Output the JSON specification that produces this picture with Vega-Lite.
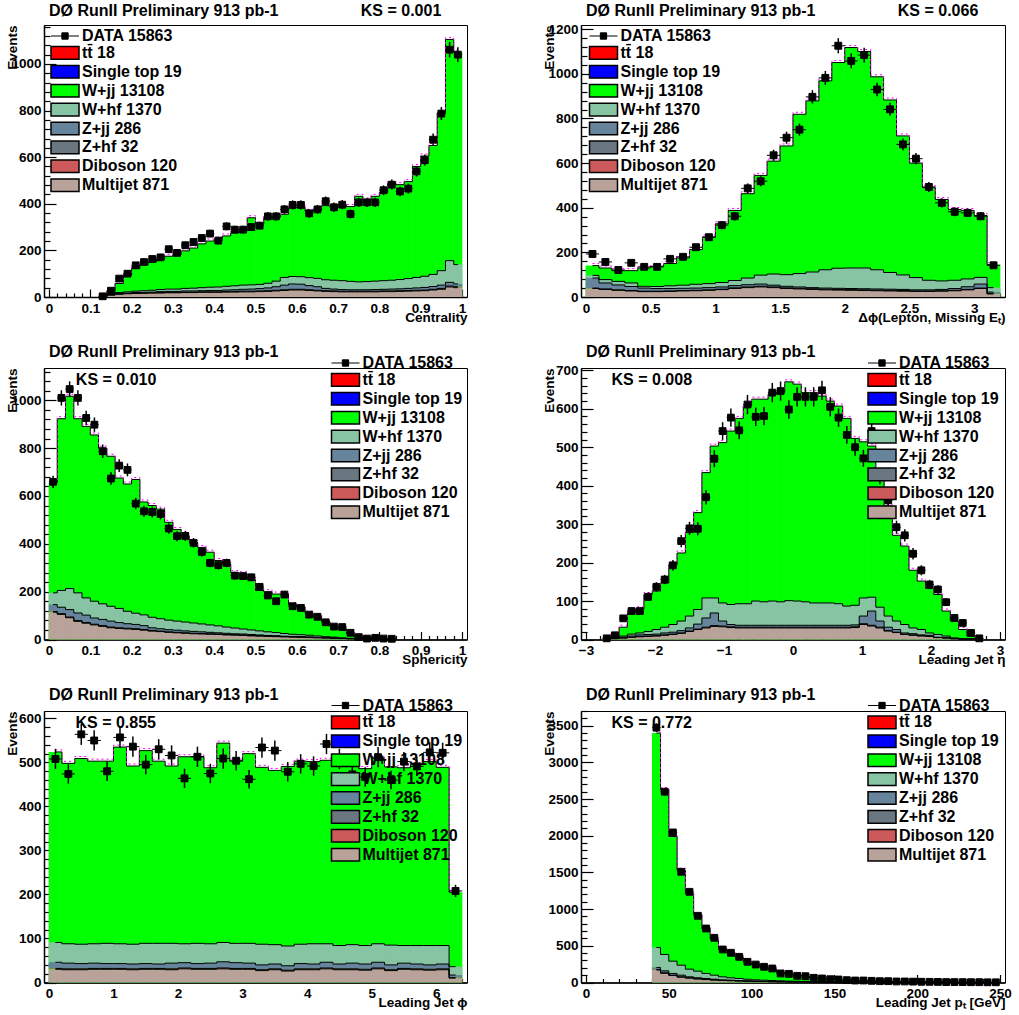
{
"$schema": "https://vega.github.io/schema/vega-lite/v6.json",
"background": "white",
"padding": {"left": 4, "top": 2, "right": 0, "bottom": 0},
"config": {
  "font": "Liberation Sans",
  "view": {"stroke": "black", "strokeWidth": 1},
  "axis": {"labelFont": "Liberation Sans", "labelFontWeight": "bold", "labelColor": "black", "titleFont": "Liberation Sans", "titleFontWeight": "bold", "titleFontSize": 13.5, "titleColor": "black", "domainColor": "black", "domainWidth": 1.5, "tickColor": "black", "tickWidth": 1.2, "grid": false, "labelFlush": false, "labelBound": false, "zindex": 2},
  "axisX": {"titleY": 24, "titleAlign": "right", "titleBaseline": "alphabetic"},
  "axisY": {"titleX": -28, "titleY": 0, "titleAlign": "right", "titleAngle": -90, "titleBaseline": "alphabetic"},
  "legend": {"title": null, "symbolSize": 196, "symbolStrokeColor": "black", "symbolStrokeWidth": 1.5, "symbolOpacity": 1, "labelFont": "Liberation Sans", "labelFontSize": 16, "labelFontWeight": "bold", "labelColor": "black", "labelOffset": 9, "rowPadding": -1.1, "labelLimit": 300, "orient": "none"}
},
"datasets": {
"comp": [{"key":"mj","rank":1,"label":"Multijet 871"},{"key":"db","rank":2,"label":"Diboson 120"},{"key":"zjj","rank":3,"label":"Z+jj 286"},{"key":"whf","rank":4,"label":"W+hf 1370"}],
"p1": [
{"x":0.13,"d":3,"e":2,"mc":3,"whf":0,"zjj":0,"db":0,"mj":2},
{"x":0.15,"d":27,"e":5,"mc":25,"whf":2,"zjj":1,"db":1,"mj":8},
{"x":0.17,"d":79,"e":9,"mc":58,"whf":4,"zjj":2,"db":1,"mj":12},
{"x":0.19,"d":100,"e":10,"mc":93,"whf":5,"zjj":2,"db":1,"mj":14},
{"x":0.21,"d":136,"e":12,"mc":122,"whf":6,"zjj":3,"db":1,"mj":15},
{"x":0.23,"d":150,"e":12,"mc":138,"whf":7,"zjj":3,"db":1,"mj":16},
{"x":0.25,"d":163,"e":13,"mc":150,"whf":8,"zjj":3,"db":1,"mj":17},
{"x":0.27,"d":170,"e":13,"mc":162,"whf":9,"zjj":4,"db":2,"mj":17},
{"x":0.29,"d":205,"e":14,"mc":175,"whf":10,"zjj":4,"db":2,"mj":18},
{"x":0.31,"d":189,"e":14,"mc":183,"whf":10,"zjj":4,"db":2,"mj":18},
{"x":0.33,"d":222,"e":15,"mc":198,"whf":11,"zjj":5,"db":2,"mj":19},
{"x":0.35,"d":236,"e":15,"mc":210,"whf":12,"zjj":5,"db":2,"mj":19},
{"x":0.37,"d":253,"e":16,"mc":228,"whf":13,"zjj":5,"db":2,"mj":20},
{"x":0.39,"d":272,"e":16,"mc":240,"whf":14,"zjj":6,"db":2,"mj":20},
{"x":0.41,"d":242,"e":16,"mc":248,"whf":15,"zjj":6,"db":2,"mj":20},
{"x":0.43,"d":303,"e":17,"mc":262,"whf":16,"zjj":7,"db":2,"mj":21},
{"x":0.45,"d":289,"e":17,"mc":275,"whf":17,"zjj":7,"db":3,"mj":21},
{"x":0.47,"d":289,"e":17,"mc":283,"whf":18,"zjj":8,"db":3,"mj":22},
{"x":0.49,"d":300,"e":17,"mc":340,"whf":18,"zjj":9,"db":3,"mj":22},
{"x":0.51,"d":306,"e":17,"mc":312,"whf":18,"zjj":10,"db":3,"mj":23},
{"x":0.53,"d":346,"e":19,"mc":340,"whf":20,"zjj":12,"db":3,"mj":24},
{"x":0.55,"d":346,"e":19,"mc":342,"whf":24,"zjj":15,"db":3,"mj":26},
{"x":0.57,"d":376,"e":19,"mc":355,"whf":33,"zjj":20,"db":3,"mj":28},
{"x":0.59,"d":395,"e":20,"mc":385,"whf":32,"zjj":23,"db":3,"mj":30},
{"x":0.61,"d":395,"e":20,"mc":385,"whf":32,"zjj":22,"db":3,"mj":30},
{"x":0.63,"d":359,"e":19,"mc":368,"whf":34,"zjj":18,"db":3,"mj":28},
{"x":0.65,"d":376,"e":19,"mc":372,"whf":36,"zjj":15,"db":3,"mj":26},
{"x":0.67,"d":411,"e":20,"mc":392,"whf":37,"zjj":10,"db":3,"mj":24},
{"x":0.69,"d":385,"e":20,"mc":388,"whf":38,"zjj":8,"db":3,"mj":23},
{"x":0.71,"d":396,"e":20,"mc":395,"whf":38,"zjj":7,"db":3,"mj":22},
{"x":0.73,"d":356,"e":19,"mc":388,"whf":36,"zjj":6,"db":3,"mj":22},
{"x":0.75,"d":406,"e":20,"mc":432,"whf":34,"zjj":6,"db":3,"mj":22},
{"x":0.77,"d":406,"e":20,"mc":415,"whf":35,"zjj":6,"db":3,"mj":22},
{"x":0.79,"d":406,"e":20,"mc":432,"whf":36,"zjj":7,"db":3,"mj":22},
{"x":0.81,"d":458,"e":21,"mc":448,"whf":37,"zjj":7,"db":3,"mj":23},
{"x":0.83,"d":482,"e":22,"mc":488,"whf":38,"zjj":8,"db":3,"mj":23},
{"x":0.85,"d":453,"e":21,"mc":482,"whf":40,"zjj":8,"db":3,"mj":24},
{"x":0.87,"d":465,"e":22,"mc":495,"whf":42,"zjj":9,"db":3,"mj":25},
{"x":0.89,"d":539,"e":23,"mc":560,"whf":45,"zjj":10,"db":3,"mj":26},
{"x":0.91,"d":587,"e":24,"mc":605,"whf":48,"zjj":11,"db":3,"mj":27},
{"x":0.93,"d":675,"e":26,"mc":650,"whf":52,"zjj":12,"db":3,"mj":30},
{"x":0.95,"d":787,"e":28,"mc":790,"whf":62,"zjj":14,"db":4,"mj":33},
{"x":0.97,"d":1061,"e":33,"mc":1105,"whf":93,"zjj":16,"db":4,"mj":43},
{"x":0.99,"d":1040,"e":32,"mc":1050,"whf":83,"zjj":12,"db":4,"mj":40}
],
"p2": [
{"x":0.05,"d":193,"e":14,"mc":141,"whf":12,"zjj":45,"db":2,"mj":38},
{"x":0.15,"d":157,"e":13,"mc":130,"whf":15,"zjj":27,"db":2,"mj":34},
{"x":0.25,"d":121,"e":11,"mc":118,"whf":16,"zjj":22,"db":2,"mj":30},
{"x":0.35,"d":153,"e":12,"mc":118,"whf":16,"zjj":18,"db":2,"mj":27},
{"x":0.45,"d":135,"e":12,"mc":130,"whf":8,"zjj":14,"db":2,"mj":24},
{"x":0.55,"d":135,"e":12,"mc":138,"whf":9,"zjj":12,"db":2,"mj":24},
{"x":0.65,"d":171,"e":13,"mc":150,"whf":12,"zjj":11,"db":2,"mj":25},
{"x":0.75,"d":180,"e":13,"mc":175,"whf":14,"zjj":10,"db":2,"mj":27},
{"x":0.85,"d":223,"e":15,"mc":213,"whf":17,"zjj":10,"db":2,"mj":28},
{"x":0.95,"d":268,"e":16,"mc":269,"whf":18,"zjj":10,"db":2,"mj":30},
{"x":1.05,"d":322,"e":18,"mc":328,"whf":20,"zjj":10,"db":2,"mj":33},
{"x":1.15,"d":362,"e":19,"mc":388,"whf":23,"zjj":10,"db":3,"mj":38},
{"x":1.25,"d":487,"e":22,"mc":463,"whf":30,"zjj":10,"db":3,"mj":42},
{"x":1.35,"d":519,"e":23,"mc":545,"whf":40,"zjj":10,"db":3,"mj":45},
{"x":1.45,"d":635,"e":25,"mc":609,"whf":50,"zjj":8,"db":3,"mj":42},
{"x":1.55,"d":714,"e":27,"mc":677,"whf":52,"zjj":7,"db":3,"mj":38},
{"x":1.65,"d":750,"e":27,"mc":819,"whf":60,"zjj":6,"db":3,"mj":36},
{"x":1.75,"d":897,"e":30,"mc":879,"whf":70,"zjj":5,"db":3,"mj":34},
{"x":1.85,"d":982,"e":31,"mc":969,"whf":82,"zjj":5,"db":3,"mj":32},
{"x":1.95,"d":1126,"e":34,"mc":1051,"whf":90,"zjj":5,"db":3,"mj":31},
{"x":2.05,"d":1058,"e":33,"mc":1118,"whf":92,"zjj":5,"db":3,"mj":30},
{"x":2.15,"d":1084,"e":33,"mc":1100,"whf":93,"zjj":5,"db":3,"mj":29},
{"x":2.25,"d":930,"e":30,"mc":987,"whf":86,"zjj":5,"db":3,"mj":28},
{"x":2.35,"d":841,"e":29,"mc":883,"whf":75,"zjj":5,"db":3,"mj":27},
{"x":2.45,"d":684,"e":26,"mc":722,"whf":65,"zjj":5,"db":3,"mj":26},
{"x":2.55,"d":620,"e":25,"mc":600,"whf":55,"zjj":5,"db":2,"mj":25},
{"x":2.65,"d":493,"e":22,"mc":490,"whf":43,"zjj":5,"db":2,"mj":25},
{"x":2.75,"d":422,"e":21,"mc":437,"whf":38,"zjj":6,"db":2,"mj":26},
{"x":2.85,"d":382,"e":20,"mc":392,"whf":37,"zjj":8,"db":2,"mj":28},
{"x":2.95,"d":377,"e":19,"mc":388,"whf":35,"zjj":12,"db":2,"mj":32},
{"x":3.05,"d":362,"e":19,"mc":365,"whf":30,"zjj":18,"db":2,"mj":38},
{"x":3.15,"d":142,"e":12,"mc":145,"whf":20,"zjj":7,"db":1,"mj":14}
],
"p3": [
{"x":0.01,"d":659,"e":26,"mc":655,"whf":49,"zjj":29,"db":3,"mj":114},
{"x":0.03,"d":1010,"e":32,"mc":923,"whf":70,"zjj":27,"db":3,"mj":105},
{"x":0.05,"d":1047,"e":32,"mc":1017,"whf":88,"zjj":31,"db":3,"mj":91},
{"x":0.07,"d":1010,"e":32,"mc":923,"whf":84,"zjj":32,"db":3,"mj":76},
{"x":0.09,"d":926,"e":30,"mc":891,"whf":72,"zjj":31,"db":3,"mj":68},
{"x":0.11,"d":898,"e":30,"mc":855,"whf":70,"zjj":26,"db":3,"mj":61},
{"x":0.13,"d":787,"e":28,"mc":800,"whf":65,"zjj":26,"db":3,"mj":55},
{"x":0.15,"d":673,"e":26,"mc":766,"whf":62,"zjj":25,"db":3,"mj":49},
{"x":0.17,"d":727,"e":27,"mc":675,"whf":59,"zjj":22,"db":3,"mj":46},
{"x":0.19,"d":709,"e":27,"mc":650,"whf":52,"zjj":19,"db":3,"mj":44},
{"x":0.21,"d":568,"e":24,"mc":669,"whf":47,"zjj":18,"db":3,"mj":42},
{"x":0.23,"d":536,"e":23,"mc":575,"whf":45,"zjj":16,"db":3,"mj":39},
{"x":0.25,"d":533,"e":23,"mc":560,"whf":44,"zjj":11,"db":3,"mj":35},
{"x":0.27,"d":525,"e":23,"mc":545,"whf":42,"zjj":10,"db":2,"mj":33},
{"x":0.29,"d":464,"e":22,"mc":490,"whf":40,"zjj":9,"db":2,"mj":30},
{"x":0.31,"d":432,"e":21,"mc":460,"whf":38,"zjj":9,"db":2,"mj":28},
{"x":0.33,"d":433,"e":21,"mc":430,"whf":37,"zjj":8,"db":2,"mj":26},
{"x":0.35,"d":404,"e":20,"mc":405,"whf":35,"zjj":8,"db":2,"mj":24},
{"x":0.37,"d":366,"e":19,"mc":385,"whf":33,"zjj":7,"db":2,"mj":23},
{"x":0.39,"d":320,"e":18,"mc":365,"whf":31,"zjj":6,"db":2,"mj":22},
{"x":0.41,"d":311,"e":18,"mc":330,"whf":29,"zjj":5,"db":2,"mj":21},
{"x":0.43,"d":320,"e":18,"mc":315,"whf":26,"zjj":5,"db":2,"mj":19},
{"x":0.45,"d":267,"e":16,"mc":280,"whf":24,"zjj":4,"db":2,"mj":18},
{"x":0.47,"d":265,"e":16,"mc":275,"whf":21,"zjj":4,"db":2,"mj":17},
{"x":0.49,"d":260,"e":16,"mc":250,"whf":19,"zjj":4,"db":2,"mj":15},
{"x":0.51,"d":220,"e":15,"mc":205,"whf":17,"zjj":3,"db":2,"mj":14},
{"x":0.53,"d":184,"e":14,"mc":200,"whf":15,"zjj":3,"db":1,"mj":13},
{"x":0.55,"d":160,"e":13,"mc":190,"whf":13,"zjj":3,"db":1,"mj":12},
{"x":0.57,"d":188,"e":14,"mc":190,"whf":11,"zjj":2,"db":1,"mj":11},
{"x":0.59,"d":139,"e":12,"mc":145,"whf":9,"zjj":2,"db":1,"mj":10},
{"x":0.61,"d":132,"e":11,"mc":135,"whf":8,"zjj":2,"db":1,"mj":9},
{"x":0.63,"d":104,"e":10,"mc":110,"whf":7,"zjj":2,"db":1,"mj":8},
{"x":0.65,"d":95,"e":10,"mc":95,"whf":6,"zjj":1,"db":1,"mj":7},
{"x":0.67,"d":72,"e":8,"mc":75,"whf":4,"zjj":1,"db":1,"mj":6},
{"x":0.69,"d":54,"e":7,"mc":55,"whf":3,"zjj":1,"db":1,"mj":5},
{"x":0.71,"d":52,"e":7,"mc":45,"whf":2,"zjj":1,"db":0,"mj":4},
{"x":0.73,"d":28,"e":5,"mc":25,"whf":1,"zjj":1,"db":0,"mj":3},
{"x":0.75,"d":10,"e":3,"mc":10,"whf":1,"zjj":0,"db":0,"mj":1},
{"x":0.77,"d":4,"e":2,"mc":6,"whf":0,"zjj":0,"db":0,"mj":1},
{"x":0.79,"d":7,"e":3,"mc":4,"whf":0,"zjj":0,"db":0,"mj":1},
{"x":0.81,"d":4,"e":2,"mc":3,"whf":0,"zjj":0,"db":0,"mj":0},
{"x":0.83,"d":3,"e":2,"mc":2,"whf":0,"zjj":0,"db":0,"mj":0}
],
"p4": [
{"x":-2.70,"d":3,"e":2,"mc":3,"whf":1,"zjj":0,"db":0,"mj":1},
{"x":-2.58,"d":11,"e":3,"mc":12,"whf":2,"zjj":1,"db":0,"mj":3},
{"x":-2.46,"d":55,"e":7,"mc":32,"whf":3,"zjj":2,"db":0,"mj":4},
{"x":-2.34,"d":74,"e":9,"mc":69,"whf":5,"zjj":3,"db":0,"mj":6},
{"x":-2.22,"d":74,"e":9,"mc":80,"whf":5,"zjj":4,"db":1,"mj":7},
{"x":-2.10,"d":111,"e":11,"mc":117,"whf":8,"zjj":4,"db":1,"mj":8},
{"x":-1.98,"d":137,"e":12,"mc":126,"whf":12,"zjj":4,"db":1,"mj":9},
{"x":-1.86,"d":156,"e":12,"mc":147,"whf":15,"zjj":5,"db":1,"mj":11},
{"x":-1.74,"d":193,"e":14,"mc":195,"whf":20,"zjj":5,"db":1,"mj":13},
{"x":-1.62,"d":256,"e":16,"mc":225,"whf":25,"zjj":6,"db":1,"mj":16},
{"x":-1.50,"d":289,"e":17,"mc":278,"whf":31,"zjj":8,"db":1,"mj":21},
{"x":-1.38,"d":288,"e":17,"mc":330,"whf":38,"zjj":13,"db":1,"mj":26},
{"x":-1.26,"d":370,"e":19,"mc":434,"whf":52,"zjj":24,"db":2,"mj":30},
{"x":-1.14,"d":470,"e":22,"mc":503,"whf":39,"zjj":33,"db":2,"mj":34},
{"x":-1.02,"d":542,"e":23,"mc":512,"whf":47,"zjj":13,"db":2,"mj":33},
{"x":-0.90,"d":577,"e":24,"mc":542,"whf":52,"zjj":6,"db":2,"mj":31},
{"x":-0.78,"d":544,"e":23,"mc":575,"whf":56,"zjj":5,"db":2,"mj":30},
{"x":-0.66,"d":611,"e":25,"mc":607,"whf":56,"zjj":5,"db":2,"mj":30},
{"x":-0.54,"d":579,"e":24,"mc":625,"whf":63,"zjj":5,"db":2,"mj":30},
{"x":-0.42,"d":581,"e":24,"mc":625,"whf":61,"zjj":5,"db":2,"mj":30},
{"x":-0.30,"d":642,"e":25,"mc":638,"whf":63,"zjj":5,"db":2,"mj":30},
{"x":-0.18,"d":646,"e":25,"mc":642,"whf":61,"zjj":5,"db":2,"mj":30},
{"x":-0.06,"d":598,"e":24,"mc":670,"whf":64,"zjj":5,"db":2,"mj":30},
{"x":0.06,"d":631,"e":25,"mc":664,"whf":63,"zjj":5,"db":2,"mj":30},
{"x":0.18,"d":631,"e":25,"mc":642,"whf":61,"zjj":5,"db":2,"mj":30},
{"x":0.30,"d":631,"e":25,"mc":642,"whf":58,"zjj":5,"db":2,"mj":30},
{"x":0.42,"d":648,"e":25,"mc":633,"whf":58,"zjj":5,"db":2,"mj":30},
{"x":0.54,"d":605,"e":25,"mc":620,"whf":58,"zjj":5,"db":2,"mj":30},
{"x":0.66,"d":577,"e":24,"mc":607,"whf":56,"zjj":5,"db":2,"mj":30},
{"x":0.78,"d":532,"e":23,"mc":575,"whf":50,"zjj":5,"db":2,"mj":30},
{"x":0.90,"d":500,"e":22,"mc":523,"whf":51,"zjj":5,"db":2,"mj":31},
{"x":1.02,"d":471,"e":22,"mc":514,"whf":47,"zjj":20,"db":2,"mj":39},
{"x":1.14,"d":542,"e":23,"mc":503,"whf":36,"zjj":37,"db":2,"mj":35},
{"x":1.26,"d":425,"e":21,"mc":430,"whf":36,"zjj":16,"db":2,"mj":30},
{"x":1.38,"d":362,"e":19,"mc":347,"whf":29,"zjj":9,"db":1,"mj":22},
{"x":1.50,"d":292,"e":17,"mc":271,"whf":22,"zjj":7,"db":1,"mj":18},
{"x":1.62,"d":271,"e":16,"mc":243,"whf":22,"zjj":3,"db":1,"mj":13},
{"x":1.74,"d":223,"e":15,"mc":180,"whf":15,"zjj":3,"db":1,"mj":11},
{"x":1.86,"d":180,"e":13,"mc":152,"whf":14,"zjj":2,"db":1,"mj":9},
{"x":1.98,"d":143,"e":12,"mc":133,"whf":6,"zjj":2,"db":1,"mj":8},
{"x":2.10,"d":130,"e":11,"mc":117,"whf":7,"zjj":1,"db":0,"mj":5},
{"x":2.22,"d":97,"e":10,"mc":74,"whf":4,"zjj":1,"db":0,"mj":4},
{"x":2.34,"d":56,"e":7,"mc":48,"whf":1,"zjj":1,"db":0,"mj":2},
{"x":2.46,"d":43,"e":7,"mc":26,"whf":1,"zjj":0,"db":0,"mj":1},
{"x":2.58,"d":17,"e":4,"mc":9,"whf":1,"zjj":0,"db":0,"mj":1},
{"x":2.70,"d":3,"e":2,"mc":3,"whf":0,"zjj":0,"db":0,"mj":0}
],
"p5": [
{"x":0.1,"d":508,"e":23,"mc":524,"whf":45,"zjj":14,"db":2,"mj":30},
{"x":0.3,"d":474,"e":22,"mc":498,"whf":44,"zjj":13,"db":2,"mj":29},
{"x":0.5,"d":564,"e":24,"mc":509,"whf":44,"zjj":12,"db":2,"mj":29},
{"x":0.7,"d":550,"e":23,"mc":503,"whf":44,"zjj":12,"db":2,"mj":30},
{"x":0.9,"d":480,"e":22,"mc":503,"whf":46,"zjj":11,"db":2,"mj":30},
{"x":1.1,"d":557,"e":24,"mc":535,"whf":45,"zjj":11,"db":2,"mj":30},
{"x":1.3,"d":536,"e":23,"mc":492,"whf":45,"zjj":11,"db":2,"mj":29},
{"x":1.5,"d":495,"e":22,"mc":527,"whf":46,"zjj":11,"db":2,"mj":30},
{"x":1.7,"d":530,"e":23,"mc":503,"whf":47,"zjj":10,"db":2,"mj":30},
{"x":1.9,"d":516,"e":23,"mc":492,"whf":45,"zjj":13,"db":2,"mj":29},
{"x":2.1,"d":464,"e":22,"mc":513,"whf":43,"zjj":12,"db":2,"mj":31},
{"x":2.3,"d":513,"e":23,"mc":513,"whf":46,"zjj":11,"db":2,"mj":30},
{"x":2.5,"d":475,"e":22,"mc":488,"whf":44,"zjj":12,"db":2,"mj":30},
{"x":2.7,"d":509,"e":23,"mc":544,"whf":44,"zjj":14,"db":2,"mj":31},
{"x":2.9,"d":504,"e":22,"mc":503,"whf":44,"zjj":13,"db":2,"mj":30},
{"x":3.1,"d":462,"e":21,"mc":520,"whf":45,"zjj":12,"db":2,"mj":30},
{"x":3.3,"d":534,"e":23,"mc":489,"whf":47,"zjj":11,"db":2,"mj":27},
{"x":3.5,"d":527,"e":23,"mc":482,"whf":44,"zjj":11,"db":2,"mj":29},
{"x":3.7,"d":479,"e":22,"mc":491,"whf":45,"zjj":10,"db":2,"mj":26},
{"x":3.9,"d":497,"e":22,"mc":503,"whf":44,"zjj":12,"db":2,"mj":29},
{"x":4.1,"d":492,"e":22,"mc":502,"whf":46,"zjj":11,"db":2,"mj":29},
{"x":4.3,"d":542,"e":23,"mc":505,"whf":42,"zjj":13,"db":2,"mj":31},
{"x":4.5,"d":508,"e":23,"mc":502,"whf":42,"zjj":11,"db":2,"mj":29},
{"x":4.7,"d":473,"e":22,"mc":492,"whf":42,"zjj":13,"db":2,"mj":29},
{"x":4.9,"d":467,"e":22,"mc":486,"whf":42,"zjj":12,"db":2,"mj":28},
{"x":5.1,"d":512,"e":23,"mc":509,"whf":42,"zjj":13,"db":2,"mj":31},
{"x":5.3,"d":460,"e":21,"mc":490,"whf":45,"zjj":11,"db":2,"mj":27},
{"x":5.5,"d":502,"e":22,"mc":488,"whf":40,"zjj":12,"db":2,"mj":30},
{"x":5.7,"d":491,"e":22,"mc":495,"whf":42,"zjj":11,"db":2,"mj":29},
{"x":5.9,"d":523,"e":23,"mc":502,"whf":44,"zjj":10,"db":2,"mj":28},
{"x":6.1,"d":522,"e":23,"mc":489,"whf":42,"zjj":11,"db":2,"mj":29},
{"x":6.3,"d":208,"e":14,"mc":205,"whf":19,"zjj":6,"db":1,"mj":10}
],
"p6": [
{"x":42.5,"d":3473,"e":59,"mc":3400,"whf":272,"zjj":27,"db":8,"mj":170},
{"x":47.5,"d":2600,"e":51,"mc":2630,"whf":223,"zjj":27,"db":6,"mj":126},
{"x":52.5,"d":2045,"e":45,"mc":1990,"whf":168,"zjj":23,"db":5,"mj":95},
{"x":57.5,"d":1509,"e":39,"mc":1530,"whf":136,"zjj":23,"db":4,"mj":73},
{"x":62.5,"d":1236,"e":35,"mc":1210,"whf":105,"zjj":13,"db":4,"mj":60},
{"x":67.5,"d":909,"e":30,"mc":925,"whf":91,"zjj":13,"db":3,"mj":48},
{"x":72.5,"d":736,"e":27,"mc":735,"whf":68,"zjj":12,"db":3,"mj":40},
{"x":77.5,"d":609,"e":25,"mc":595,"whf":55,"zjj":9,"db":3,"mj":33},
{"x":82.5,"d":450,"e":21,"mc":460,"whf":41,"zjj":7,"db":2,"mj":27},
{"x":87.5,"d":405,"e":20,"mc":398,"whf":32,"zjj":6,"db":2,"mj":24},
{"x":92.5,"d":350,"e":19,"mc":343,"whf":28,"zjj":5,"db":2,"mj":20},
{"x":97.5,"d":282,"e":17,"mc":281,"whf":22,"zjj":4,"db":2,"mj":17},
{"x":102.5,"d":245,"e":16,"mc":240,"whf":17,"zjj":4,"db":2,"mj":14},
{"x":107.5,"d":214,"e":15,"mc":210,"whf":15,"zjj":3,"db":1,"mj":12},
{"x":112.5,"d":191,"e":14,"mc":180,"whf":13,"zjj":3,"db":1,"mj":10},
{"x":117.5,"d":123,"e":11,"mc":140,"whf":11,"zjj":3,"db":1,"mj":8},
{"x":122.5,"d":118,"e":11,"mc":120,"whf":9,"zjj":2,"db":1,"mj":7},
{"x":127.5,"d":91,"e":10,"mc":100,"whf":8,"zjj":2,"db":1,"mj":6},
{"x":132.5,"d":86,"e":9,"mc":85,"whf":7,"zjj":2,"db":1,"mj":5},
{"x":137.5,"d":64,"e":8,"mc":70,"whf":6,"zjj":1,"db":1,"mj":4},
{"x":142.5,"d":55,"e":7,"mc":58,"whf":5,"zjj":1,"db":1,"mj":4},
{"x":147.5,"d":45,"e":7,"mc":48,"whf":4,"zjj":1,"db":0,"mj":3},
{"x":152.5,"d":41,"e":6,"mc":40,"whf":3,"zjj":1,"db":0,"mj":3},
{"x":157.5,"d":32,"e":6,"mc":33,"whf":3,"zjj":1,"db":0,"mj":2},
{"x":162.5,"d":27,"e":5,"mc":28,"whf":2,"zjj":1,"db":0,"mj":2},
{"x":167.5,"d":27,"e":5,"mc":24,"whf":2,"zjj":0,"db":0,"mj":2},
{"x":172.5,"d":23,"e":5,"mc":20,"whf":2,"zjj":0,"db":0,"mj":1},
{"x":177.5,"d":18,"e":4,"mc":17,"whf":1,"zjj":0,"db":0,"mj":1},
{"x":182.5,"d":18,"e":4,"mc":15,"whf":1,"zjj":0,"db":0,"mj":1},
{"x":187.5,"d":14,"e":4,"mc":13,"whf":1,"zjj":0,"db":0,"mj":1},
{"x":192.5,"d":14,"e":4,"mc":11,"whf":1,"zjj":0,"db":0,"mj":1},
{"x":197.5,"d":12,"e":3,"mc":10,"whf":1,"zjj":0,"db":0,"mj":1},
{"x":202.5,"d":10,"e":3,"mc":9,"whf":1,"zjj":0,"db":0,"mj":0},
{"x":207.5,"d":9,"e":3,"mc":8,"whf":1,"zjj":0,"db":0,"mj":0},
{"x":212.5,"d":8,"e":3,"mc":7,"whf":0,"zjj":0,"db":0,"mj":0},
{"x":217.5,"d":6,"e":2,"mc":6,"whf":0,"zjj":0,"db":0,"mj":0},
{"x":222.5,"d":6,"e":2,"mc":5,"whf":0,"zjj":0,"db":0,"mj":0},
{"x":227.5,"d":5,"e":2,"mc":5,"whf":0,"zjj":0,"db":0,"mj":0},
{"x":232.5,"d":4,"e":2,"mc":4,"whf":0,"zjj":0,"db":0,"mj":0},
{"x":237.5,"d":4,"e":2,"mc":4,"whf":0,"zjj":0,"db":0,"mj":0},
{"x":242.5,"d":3,"e":2,"mc":3,"whf":0,"zjj":0,"db":0,"mj":0},
{"x":247.5,"d":3,"e":2,"mc":3,"whf":0,"zjj":0,"db":0,"mj":0}
]
},
"concat": [
{"width": 423, "height": 272, "data": {"name": "p1"},
 "layer": [
  {"mark": {"type": "bar", "width": 8.9, "orient": "vertical"},
   "encoding": {
    "x": {"field": "x", "type": "quantitative", "title": "Centrality", "scale": {"domain": [0, 1], "nice": false, "zero": false},
      "axis": {"titleX": 423, "tickCount": 200, "labelOverlap": {"expr": "false"}, "values": [0,0.02,0.04,0.06,0.08,0.1,0.12,0.14,0.16,0.18,0.2,0.22,0.24,0.26,0.28,0.3,0.32,0.34,0.36,0.38,0.4,0.42,0.44,0.46,0.48,0.5,0.52,0.54,0.56,0.58,0.6,0.62,0.64,0.66,0.68,0.7,0.72,0.74,0.76,0.78,0.8,0.82,0.84,0.86,0.88,0.9,0.92,0.94,0.96,0.98,1],
        "labelExpr": "abs(datum.value*10-round(datum.value*10))<0.001 ? format(datum.value, '') : ''",
        "labelFontSize": {"condition": {"test": "abs(datum.value*10-round(datum.value*10))<0.001", "value": 13.5}, "value": 0},
        "labelPadding": {"condition": {"test": "abs(datum.value*10-round(datum.value*10))<0.001", "value": 12}, "value": -40},
        "tickSize": {"condition": {"test": "abs(datum.value*10-round(datum.value*10))<0.001", "value": -8}, "value": -4}}},
    "y": {"field": "mc", "type": "quantitative", "title": "Events", "scale": {"domain": [0, 1167], "nice": false},
      "axis": {"tickCount": 200, "labelOverlap": {"expr": "false"}, "values": [0,40,80,120,160,200,240,280,320,360,400,440,480,520,560,600,640,680,720,760,800,840,880,920,960,1000,1040,1080,1120,1160],
        "labelExpr": "datum.value % 200 === 0 ? format(datum.value, '') : ''",
        "labelFontSize": {"condition": {"test": "datum.value % 200 === 0", "value": 13.5}, "value": 0},
        "labelPadding": {"condition": {"test": "datum.value % 200 === 0", "value": 15}, "value": -60},
        "tickSize": {"condition": {"test": "datum.value % 200 === 0", "value": -12}, "value": -6}}},
    "color": {"datum": "W+jj 13108",
      "scale": {"domain": ["DATA 15863","tt\u0304 18","Single top 19","W+jj 13108","W+hf 1370","Z+jj 286","Z+hf 32","Diboson 120","Multijet 871"], "range": ["#000000","#ff0000","#0000ff","#00ff00","#87c4a4","#66849c","#6a7680","#cc5a5a","#b8a29a"]},
      "legend": {"legendX": 13, "legendY": 3, "padding": 0, "symbolType": "M-2,-0.9H2V0.9H-2Z",
        "encode": {"symbols": {"update": {"shape": {"signal": "datum.value === 'DATA 15863' ? 'M-2,0H2M-0.45,-0.45H0.45V0.45H-0.45Z' : 'M-2,-0.9H2V0.9H-2Z'"}, "stroke": {"value": "black"}, "strokeWidth": {"signal": "datum.value === 'DATA 15863' ? 1 : 1.5"}}}}}}
   }},
  {"transform": [{"fold": ["whf","zjj","db","mj"], "as": ["key","v"]}, {"lookup": "key", "from": {"data": {"name": "comp"}, "key": "key", "fields": ["rank","label"]}}, {"stack": "v", "groupby": ["x"], "sort": [{"field": "rank", "order": "ascending"}], "as": ["v0","v1"]}],
   "mark": {"type": "bar", "width": 8.9, "orient": "vertical"},
   "encoding": {"x": {"field": "x", "type": "quantitative", "title": "Centrality"}, "y": {"field": "v1", "type": "quantitative", "title": "Events"}, "y2": {"field": "v0"}, "color": {"field": "label", "type": "nominal"}}},
  {"transform": [{"fold": ["whf","zjj","db","mj"], "as": ["key","v"]}, {"lookup": "key", "from": {"data": {"name": "comp"}, "key": "key", "fields": ["rank","label"]}}, {"stack": "v", "groupby": ["x"], "sort": [{"field": "rank", "order": "ascending"}], "as": ["v0","v1"]}],
   "mark": {"type": "line", "interpolate": "step", "color": "black", "strokeWidth": 1},
   "encoding": {"x": {"field": "x", "type": "quantitative", "title": "Centrality"}, "y": {"field": "v1", "type": "quantitative", "title": "Events"}, "detail": {"field": "key"}}},
  {"mark": {"type": "line", "interpolate": "step", "color": "black", "strokeWidth": 1},
   "encoding": {"x": {"field": "x", "type": "quantitative", "title": "Centrality"}, "y": {"field": "mc", "type": "quantitative", "title": "Events"}}},
  {"mark": {"type": "line", "interpolate": "step", "color": "#ff00ff", "strokeWidth": 1, "strokeDash": [2, 3], "yOffset": -2},
   "encoding": {"x": {"field": "x", "type": "quantitative", "title": "Centrality"}, "y": {"field": "mc", "type": "quantitative", "title": "Events"}}},
  {"mark": {"type": "errorbar", "ticks": false, "rule": {"color": "black", "strokeWidth": 1.5}},
   "encoding": {"x": {"field": "x", "type": "quantitative", "title": "Centrality"}, "y": {"field": "d", "type": "quantitative", "title": "Events"}, "yError": {"field": "e"}}},
  {"mark": {"type": "point", "shape": "M-1,0H1M-0.8,-0.8H0.8V0.8H-0.8Z", "size": 72, "filled": true, "color": "black", "stroke": "black", "strokeWidth": 1, "opacity": 1},
   "encoding": {"x": {"field": "x", "type": "quantitative", "title": "Centrality"}, "y": {"field": "d", "type": "quantitative", "title": "Events"}}},
  {"data": {"values": [{"x": 0, "y": 1206, "t": "DØ RunII Preliminary 913 pb-1"}, {"x": 0.755, "y": 1206, "t": "KS = 0.001"}]},
   "mark": {"type": "text", "align": "left", "baseline": "alphabetic", "fontSize": 16, "fontWeight": "bold", "color": "black"},
   "encoding": {"x": {"field": "x", "type": "quantitative", "title": "Centrality"}, "y": {"field": "y", "type": "quantitative", "title": "Events"}, "text": {"field": "t"}}}
 ]},
{"width": 424, "height": 272, "data": {"name": "p2"},
 "layer": [
  {"mark": {"type": "bar", "width": 13.7, "orient": "vertical"},
   "encoding": {
    "x": {"field": "x", "type": "quantitative", "title": "Δϕ(Lepton, Missing Eₜ)", "scale": {"domain": [0, 3.2], "nice": false, "zero": false},
      "axis": {"titleX": 424, "tickCount": 200, "labelOverlap": {"expr": "false"}, "values": [0,0.1,0.2,0.3,0.4,0.5,0.6,0.7,0.8,0.9,1,1.1,1.2,1.3,1.4,1.5,1.6,1.7,1.8,1.9,2,2.1,2.2,2.3,2.4,2.5,2.6,2.7,2.8,2.9,3,3.1,3.2],
        "labelExpr": "abs(datum.value*2-round(datum.value*2))<0.001 ? format(datum.value, '') : ''",
        "labelFontSize": {"condition": {"test": "abs(datum.value*2-round(datum.value*2))<0.001", "value": 13.5}, "value": 0},
        "labelPadding": {"condition": {"test": "abs(datum.value*2-round(datum.value*2))<0.001", "value": 12}, "value": -40},
        "tickSize": {"condition": {"test": "abs(datum.value*2-round(datum.value*2))<0.001", "value": -8}, "value": -4}}},
    "y": {"field": "mc", "type": "quantitative", "title": "Events", "scale": {"domain": [0, 1219], "nice": false},
      "axis": {"tickCount": 200, "labelOverlap": {"expr": "false"}, "values": [0,40,80,120,160,200,240,280,320,360,400,440,480,520,560,600,640,680,720,760,800,840,880,920,960,1000,1040,1080,1120,1160,1200],
        "labelExpr": "datum.value % 200 === 0 ? format(datum.value, '') : ''",
        "labelFontSize": {"condition": {"test": "datum.value % 200 === 0", "value": 13.5}, "value": 0},
        "labelPadding": {"condition": {"test": "datum.value % 200 === 0", "value": 15}, "value": -60},
        "tickSize": {"condition": {"test": "datum.value % 200 === 0", "value": -12}, "value": -6}}},
    "color": {"datum": "W+jj 13108",
      "scale": {"domain": ["DATA 15863","tt\u0304 18","Single top 19","W+jj 13108","W+hf 1370","Z+jj 286","Z+hf 32","Diboson 120","Multijet 871"], "range": ["#000000","#ff0000","#0000ff","#00ff00","#87c4a4","#66849c","#6a7680","#cc5a5a","#b8a29a"]},
      "legend": {"legendX": 14.5, "legendY": 3, "padding": 0, "symbolType": "M-2,-0.9H2V0.9H-2Z",
        "encode": {"symbols": {"update": {"shape": {"signal": "datum.value === 'DATA 15863' ? 'M-2,0H2M-0.45,-0.45H0.45V0.45H-0.45Z' : 'M-2,-0.9H2V0.9H-2Z'"}, "stroke": {"value": "black"}, "strokeWidth": {"signal": "datum.value === 'DATA 15863' ? 1 : 1.5"}}}}}}
   }},
  {"transform": [{"fold": ["whf","zjj","db","mj"], "as": ["key","v"]}, {"lookup": "key", "from": {"data": {"name": "comp"}, "key": "key", "fields": ["rank","label"]}}, {"stack": "v", "groupby": ["x"], "sort": [{"field": "rank", "order": "ascending"}], "as": ["v0","v1"]}],
   "mark": {"type": "bar", "width": 13.7, "orient": "vertical"},
   "encoding": {"x": {"field": "x", "type": "quantitative", "title": "Δϕ(Lepton, Missing Eₜ)"}, "y": {"field": "v1", "type": "quantitative", "title": "Events"}, "y2": {"field": "v0"}, "color": {"field": "label", "type": "nominal"}}},
  {"transform": [{"fold": ["whf","zjj","db","mj"], "as": ["key","v"]}, {"lookup": "key", "from": {"data": {"name": "comp"}, "key": "key", "fields": ["rank","label"]}}, {"stack": "v", "groupby": ["x"], "sort": [{"field": "rank", "order": "ascending"}], "as": ["v0","v1"]}],
   "mark": {"type": "line", "interpolate": "step", "color": "black", "strokeWidth": 1},
   "encoding": {"x": {"field": "x", "type": "quantitative", "title": "Δϕ(Lepton, Missing Eₜ)"}, "y": {"field": "v1", "type": "quantitative", "title": "Events"}, "detail": {"field": "key"}}},
  {"mark": {"type": "line", "interpolate": "step", "color": "black", "strokeWidth": 1},
   "encoding": {"x": {"field": "x", "type": "quantitative", "title": "Δϕ(Lepton, Missing Eₜ)"}, "y": {"field": "mc", "type": "quantitative", "title": "Events"}}},
  {"mark": {"type": "line", "interpolate": "step", "color": "#ff00ff", "strokeWidth": 1, "strokeDash": [2, 3], "yOffset": -2},
   "encoding": {"x": {"field": "x", "type": "quantitative", "title": "Δϕ(Lepton, Missing Eₜ)"}, "y": {"field": "mc", "type": "quantitative", "title": "Events"}}},
  {"mark": {"type": "errorbar", "ticks": false, "rule": {"color": "black", "strokeWidth": 1.5}},
   "encoding": {"x": {"field": "x", "type": "quantitative", "title": "Δϕ(Lepton, Missing Eₜ)"}, "y": {"field": "d", "type": "quantitative", "title": "Events"}, "yError": {"field": "e"}}},
  {"mark": {"type": "point", "shape": "M-1,0H1M-0.52,-0.52H0.52V0.52H-0.52Z", "size": 176, "filled": true, "color": "black", "stroke": "black", "strokeWidth": 1, "opacity": 1},
   "encoding": {"x": {"field": "x", "type": "quantitative", "title": "Δϕ(Lepton, Missing Eₜ)"}, "y": {"field": "d", "type": "quantitative", "title": "Events"}}},
  {"data": {"values": [{"x": 0, "y": 1260, "t": "DØ RunII Preliminary 913 pb-1"}, {"x": 2.41, "y": 1260, "t": "KS = 0.066"}]},
   "mark": {"type": "text", "align": "left", "baseline": "alphabetic", "fontSize": 16, "fontWeight": "bold", "color": "black"},
   "encoding": {"x": {"field": "x", "type": "quantitative", "title": "Δϕ(Lepton, Missing Eₜ)"}, "y": {"field": "y", "type": "quantitative", "title": "Events"}, "text": {"field": "t"}}}
 ]},
{"width": 423, "height": 271.5, "data": {"name": "p3"},
 "layer": [
  {"mark": {"type": "bar", "width": 8.9, "orient": "vertical"},
   "encoding": {
    "x": {"field": "x", "type": "quantitative", "title": "Sphericity", "scale": {"domain": [0, 1], "nice": false, "zero": false},
      "axis": {"titleX": 423, "tickCount": 200, "labelOverlap": {"expr": "false"}, "values": [0,0.02,0.04,0.06,0.08,0.1,0.12,0.14,0.16,0.18,0.2,0.22,0.24,0.26,0.28,0.3,0.32,0.34,0.36,0.38,0.4,0.42,0.44,0.46,0.48,0.5,0.52,0.54,0.56,0.58,0.6,0.62,0.64,0.66,0.68,0.7,0.72,0.74,0.76,0.78,0.8,0.82,0.84,0.86,0.88,0.9,0.92,0.94,0.96,0.98,1],
        "labelExpr": "abs(datum.value*10-round(datum.value*10))<0.001 ? format(datum.value, '') : ''",
        "labelFontSize": {"condition": {"test": "abs(datum.value*10-round(datum.value*10))<0.001", "value": 13.5}, "value": 0},
        "labelPadding": {"condition": {"test": "abs(datum.value*10-round(datum.value*10))<0.001", "value": 12}, "value": -40},
        "tickSize": {"condition": {"test": "abs(datum.value*10-round(datum.value*10))<0.001", "value": -8}, "value": -4}}},
    "y": {"field": "mc", "type": "quantitative", "title": "Events", "scale": {"domain": [0, 1135], "nice": false},
      "axis": {"tickCount": 200, "labelOverlap": {"expr": "false"}, "values": [0,40,80,120,160,200,240,280,320,360,400,440,480,520,560,600,640,680,720,760,800,840,880,920,960,1000,1040,1080,1120],
        "labelExpr": "datum.value % 200 === 0 ? format(datum.value, '') : ''",
        "labelFontSize": {"condition": {"test": "datum.value % 200 === 0", "value": 13.5}, "value": 0},
        "labelPadding": {"condition": {"test": "datum.value % 200 === 0", "value": 15}, "value": -60},
        "tickSize": {"condition": {"test": "datum.value % 200 === 0", "value": -12}, "value": -6}}},
    "color": {"datum": "W+jj 13108",
      "scale": {"domain": ["DATA 15863","tt\u0304 18","Single top 19","W+jj 13108","W+hf 1370","Z+jj 286","Z+hf 32","Diboson 120","Multijet 871"], "range": ["#000000","#ff0000","#0000ff","#00ff00","#87c4a4","#66849c","#6a7680","#cc5a5a","#b8a29a"]},
      "legend": {"legendX": 283.5, "legendY": -23, "padding": 10, "symbolType": "M-2,-0.9H2V0.9H-2Z",
        "encode": {"symbols": {"update": {"shape": {"signal": "datum.value === 'DATA 15863' ? 'M-2,0H2M-0.45,-0.45H0.45V0.45H-0.45Z' : 'M-2,-0.9H2V0.9H-2Z'"}, "stroke": {"value": "black"}, "strokeWidth": {"signal": "datum.value === 'DATA 15863' ? 1 : 1.5"}}}}}}
   }},
  {"transform": [{"fold": ["whf","zjj","db","mj"], "as": ["key","v"]}, {"lookup": "key", "from": {"data": {"name": "comp"}, "key": "key", "fields": ["rank","label"]}}, {"stack": "v", "groupby": ["x"], "sort": [{"field": "rank", "order": "ascending"}], "as": ["v0","v1"]}],
   "mark": {"type": "bar", "width": 8.9, "orient": "vertical"},
   "encoding": {"x": {"field": "x", "type": "quantitative", "title": "Sphericity"}, "y": {"field": "v1", "type": "quantitative", "title": "Events"}, "y2": {"field": "v0"}, "color": {"field": "label", "type": "nominal"}}},
  {"transform": [{"fold": ["whf","zjj","db","mj"], "as": ["key","v"]}, {"lookup": "key", "from": {"data": {"name": "comp"}, "key": "key", "fields": ["rank","label"]}}, {"stack": "v", "groupby": ["x"], "sort": [{"field": "rank", "order": "ascending"}], "as": ["v0","v1"]}],
   "mark": {"type": "line", "interpolate": "step", "color": "black", "strokeWidth": 1},
   "encoding": {"x": {"field": "x", "type": "quantitative", "title": "Sphericity"}, "y": {"field": "v1", "type": "quantitative", "title": "Events"}, "detail": {"field": "key"}}},
  {"mark": {"type": "line", "interpolate": "step", "color": "black", "strokeWidth": 1},
   "encoding": {"x": {"field": "x", "type": "quantitative", "title": "Sphericity"}, "y": {"field": "mc", "type": "quantitative", "title": "Events"}}},
  {"mark": {"type": "line", "interpolate": "step", "color": "#ff00ff", "strokeWidth": 1, "strokeDash": [2, 3], "yOffset": -2},
   "encoding": {"x": {"field": "x", "type": "quantitative", "title": "Sphericity"}, "y": {"field": "mc", "type": "quantitative", "title": "Events"}}},
  {"mark": {"type": "errorbar", "ticks": false, "rule": {"color": "black", "strokeWidth": 1.5}},
   "encoding": {"x": {"field": "x", "type": "quantitative", "title": "Sphericity"}, "y": {"field": "d", "type": "quantitative", "title": "Events"}, "yError": {"field": "e"}}},
  {"mark": {"type": "point", "shape": "M-1,0H1M-0.8,-0.8H0.8V0.8H-0.8Z", "size": 72, "filled": true, "color": "black", "stroke": "black", "strokeWidth": 1, "opacity": 1},
   "encoding": {"x": {"field": "x", "type": "quantitative", "title": "Sphericity"}, "y": {"field": "d", "type": "quantitative", "title": "Events"}}},
  {"data": {"values": [{"x": 0, "y": 1180, "t": "DØ RunII Preliminary 913 pb-1"}, {"x": 0.065, "y": 1063, "t": "KS = 0.010"}]},
   "mark": {"type": "text", "align": "left", "baseline": "alphabetic", "fontSize": 16, "fontWeight": "bold", "color": "black"},
   "encoding": {"x": {"field": "x", "type": "quantitative", "title": "Sphericity"}, "y": {"field": "y", "type": "quantitative", "title": "Events"}, "text": {"field": "t"}}}
 ]},
{"width": 424, "height": 271.5, "data": {"name": "p4"},
 "layer": [
  {"mark": {"type": "bar", "width": 8.9, "orient": "vertical"},
   "encoding": {
    "x": {"field": "x", "type": "quantitative", "title": "Leading Jet η", "scale": {"domain": [-3, 3], "nice": false, "zero": false},
      "axis": {"titleX": 424, "tickCount": 200, "labelOverlap": {"expr": "false"}, "values": [-3,-2.8,-2.6,-2.4,-2.2,-2,-1.8,-1.6,-1.4,-1.2,-1,-0.8,-0.6,-0.4,-0.2,0,0.2,0.4,0.6,0.8,1,1.2,1.4,1.6,1.8,2,2.2,2.4,2.6,2.8,3],
        "labelExpr": "abs(datum.value-round(datum.value))<0.001 ? format(datum.value, '') : ''",
        "labelFontSize": {"condition": {"test": "abs(datum.value-round(datum.value))<0.001", "value": 13.5}, "value": 0},
        "labelPadding": {"condition": {"test": "abs(datum.value-round(datum.value))<0.001", "value": 12}, "value": -40},
        "tickSize": {"condition": {"test": "abs(datum.value-round(datum.value))<0.001", "value": -8}, "value": -4}}},
    "y": {"field": "mc", "type": "quantitative", "title": "Events", "scale": {"domain": [0, 706], "nice": false},
      "axis": {"tickCount": 200, "labelOverlap": {"expr": "false"}, "values": [0,20,40,60,80,100,120,140,160,180,200,220,240,260,280,300,320,340,360,380,400,420,440,460,480,500,520,540,560,580,600,620,640,660,680,700],
        "labelExpr": "datum.value % 100 === 0 ? format(datum.value, '') : ''",
        "labelFontSize": {"condition": {"test": "datum.value % 100 === 0", "value": 13.5}, "value": 0},
        "labelPadding": {"condition": {"test": "datum.value % 100 === 0", "value": 15}, "value": -60},
        "tickSize": {"condition": {"test": "datum.value % 100 === 0", "value": -12}, "value": -6}}},
    "color": {"datum": "W+jj 13108",
      "scale": {"domain": ["DATA 15863","tt\u0304 18","Single top 19","W+jj 13108","W+hf 1370","Z+jj 286","Z+hf 32","Diboson 120","Multijet 871"], "range": ["#000000","#ff0000","#0000ff","#00ff00","#87c4a4","#66849c","#6a7680","#cc5a5a","#b8a29a"]},
      "legend": {"legendX": 283, "legendY": -23, "padding": 10, "symbolType": "M-2,-0.9H2V0.9H-2Z",
        "encode": {"symbols": {"update": {"shape": {"signal": "datum.value === 'DATA 15863' ? 'M-2,0H2M-0.45,-0.45H0.45V0.45H-0.45Z' : 'M-2,-0.9H2V0.9H-2Z'"}, "stroke": {"value": "black"}, "strokeWidth": {"signal": "datum.value === 'DATA 15863' ? 1 : 1.5"}}}}}}
   }},
  {"transform": [{"fold": ["whf","zjj","db","mj"], "as": ["key","v"]}, {"lookup": "key", "from": {"data": {"name": "comp"}, "key": "key", "fields": ["rank","label"]}}, {"stack": "v", "groupby": ["x"], "sort": [{"field": "rank", "order": "ascending"}], "as": ["v0","v1"]}],
   "mark": {"type": "bar", "width": 8.9, "orient": "vertical"},
   "encoding": {"x": {"field": "x", "type": "quantitative", "title": "Leading Jet η"}, "y": {"field": "v1", "type": "quantitative", "title": "Events"}, "y2": {"field": "v0"}, "color": {"field": "label", "type": "nominal"}}},
  {"transform": [{"fold": ["whf","zjj","db","mj"], "as": ["key","v"]}, {"lookup": "key", "from": {"data": {"name": "comp"}, "key": "key", "fields": ["rank","label"]}}, {"stack": "v", "groupby": ["x"], "sort": [{"field": "rank", "order": "ascending"}], "as": ["v0","v1"]}],
   "mark": {"type": "line", "interpolate": "step", "color": "black", "strokeWidth": 1},
   "encoding": {"x": {"field": "x", "type": "quantitative", "title": "Leading Jet η"}, "y": {"field": "v1", "type": "quantitative", "title": "Events"}, "detail": {"field": "key"}}},
  {"mark": {"type": "line", "interpolate": "step", "color": "black", "strokeWidth": 1},
   "encoding": {"x": {"field": "x", "type": "quantitative", "title": "Leading Jet η"}, "y": {"field": "mc", "type": "quantitative", "title": "Events"}}},
  {"mark": {"type": "line", "interpolate": "step", "color": "#ff00ff", "strokeWidth": 1, "strokeDash": [2, 3], "yOffset": -2},
   "encoding": {"x": {"field": "x", "type": "quantitative", "title": "Leading Jet η"}, "y": {"field": "mc", "type": "quantitative", "title": "Events"}}},
  {"mark": {"type": "errorbar", "ticks": false, "rule": {"color": "black", "strokeWidth": 1.5}},
   "encoding": {"x": {"field": "x", "type": "quantitative", "title": "Leading Jet η"}, "y": {"field": "d", "type": "quantitative", "title": "Events"}, "yError": {"field": "e"}}},
  {"mark": {"type": "point", "shape": "M-1,0H1M-0.8,-0.8H0.8V0.8H-0.8Z", "size": 72, "filled": true, "color": "black", "stroke": "black", "strokeWidth": 1, "opacity": 1},
   "encoding": {"x": {"field": "x", "type": "quantitative", "title": "Leading Jet η"}, "y": {"field": "d", "type": "quantitative", "title": "Events"}}},
  {"data": {"values": [{"x": -3, "y": 735, "t": "DØ RunII Preliminary 913 pb-1"}, {"x": -2.63, "y": 662, "t": "KS = 0.008"}]},
   "mark": {"type": "text", "align": "left", "baseline": "alphabetic", "fontSize": 16, "fontWeight": "bold", "color": "black"},
   "encoding": {"x": {"field": "x", "type": "quantitative", "title": "Leading Jet η"}, "y": {"field": "y", "type": "quantitative", "title": "Events"}, "text": {"field": "t"}}}
 ]},
{"width": 423, "height": 271.5, "data": {"name": "p5"},
 "layer": [
  {"mark": {"type": "bar", "width": 13.6, "orient": "vertical"},
   "encoding": {
    "x": {"field": "x", "type": "quantitative", "title": "Leading Jet ϕ", "scale": {"domain": [0, 6.4], "nice": false, "zero": false},
      "axis": {"titleX": 423, "tickCount": 200, "labelOverlap": {"expr": "false"}, "values": [0,0.2,0.4,0.6,0.8,1,1.2,1.4,1.6,1.8,2,2.2,2.4,2.6,2.8,3,3.2,3.4,3.6,3.8,4,4.2,4.4,4.6,4.8,5,5.2,5.4,5.6,5.8,6,6.2,6.4],
        "labelExpr": "abs(datum.value-round(datum.value))<0.001 ? format(datum.value, '') : ''",
        "labelFontSize": {"condition": {"test": "abs(datum.value-round(datum.value))<0.001", "value": 13.5}, "value": 0},
        "labelPadding": {"condition": {"test": "abs(datum.value-round(datum.value))<0.001", "value": 12}, "value": -40},
        "tickSize": {"condition": {"test": "abs(datum.value-round(datum.value))<0.001", "value": -8}, "value": -4}}},
    "y": {"field": "mc", "type": "quantitative", "title": "Events", "scale": {"domain": [0, 617], "nice": false},
      "axis": {"tickCount": 200, "labelOverlap": {"expr": "false"}, "values": [0,20,40,60,80,100,120,140,160,180,200,220,240,260,280,300,320,340,360,380,400,420,440,460,480,500,520,540,560,580,600],
        "labelExpr": "datum.value % 100 === 0 ? format(datum.value, '') : ''",
        "labelFontSize": {"condition": {"test": "datum.value % 100 === 0", "value": 13.5}, "value": 0},
        "labelPadding": {"condition": {"test": "datum.value % 100 === 0", "value": 15}, "value": -60},
        "tickSize": {"condition": {"test": "datum.value % 100 === 0", "value": -12}, "value": -6}}},
    "color": {"datum": "W+jj 13108",
      "scale": {"domain": ["DATA 15863","tt\u0304 18","Single top 19","W+jj 13108","W+hf 1370","Z+jj 286","Z+hf 32","Diboson 120","Multijet 871"], "range": ["#000000","#ff0000","#0000ff","#00ff00","#87c4a4","#66849c","#6a7680","#cc5a5a","#b8a29a"]},
      "legend": {"legendX": 283.5, "legendY": -23.5, "padding": 10, "symbolType": "M-2,-0.9H2V0.9H-2Z",
        "encode": {"symbols": {"update": {"shape": {"signal": "datum.value === 'DATA 15863' ? 'M-2,0H2M-0.45,-0.45H0.45V0.45H-0.45Z' : 'M-2,-0.9H2V0.9H-2Z'"}, "stroke": {"value": "black"}, "strokeWidth": {"signal": "datum.value === 'DATA 15863' ? 1 : 1.5"}}}}}}
   }},
  {"transform": [{"fold": ["whf","zjj","db","mj"], "as": ["key","v"]}, {"lookup": "key", "from": {"data": {"name": "comp"}, "key": "key", "fields": ["rank","label"]}}, {"stack": "v", "groupby": ["x"], "sort": [{"field": "rank", "order": "ascending"}], "as": ["v0","v1"]}],
   "mark": {"type": "bar", "width": 13.6, "orient": "vertical"},
   "encoding": {"x": {"field": "x", "type": "quantitative", "title": "Leading Jet ϕ"}, "y": {"field": "v1", "type": "quantitative", "title": "Events"}, "y2": {"field": "v0"}, "color": {"field": "label", "type": "nominal"}}},
  {"transform": [{"fold": ["whf","zjj","db","mj"], "as": ["key","v"]}, {"lookup": "key", "from": {"data": {"name": "comp"}, "key": "key", "fields": ["rank","label"]}}, {"stack": "v", "groupby": ["x"], "sort": [{"field": "rank", "order": "ascending"}], "as": ["v0","v1"]}],
   "mark": {"type": "line", "interpolate": "step", "color": "black", "strokeWidth": 1},
   "encoding": {"x": {"field": "x", "type": "quantitative", "title": "Leading Jet ϕ"}, "y": {"field": "v1", "type": "quantitative", "title": "Events"}, "detail": {"field": "key"}}},
  {"mark": {"type": "line", "interpolate": "step", "color": "black", "strokeWidth": 1},
   "encoding": {"x": {"field": "x", "type": "quantitative", "title": "Leading Jet ϕ"}, "y": {"field": "mc", "type": "quantitative", "title": "Events"}}},
  {"mark": {"type": "line", "interpolate": "step", "color": "#ff00ff", "strokeWidth": 1, "strokeDash": [2, 3], "yOffset": -2},
   "encoding": {"x": {"field": "x", "type": "quantitative", "title": "Leading Jet ϕ"}, "y": {"field": "mc", "type": "quantitative", "title": "Events"}}},
  {"mark": {"type": "errorbar", "ticks": false, "rule": {"color": "black", "strokeWidth": 1.5}},
   "encoding": {"x": {"field": "x", "type": "quantitative", "title": "Leading Jet ϕ"}, "y": {"field": "d", "type": "quantitative", "title": "Events"}, "yError": {"field": "e"}}},
  {"mark": {"type": "point", "shape": "M-1,0H1M-0.52,-0.52H0.52V0.52H-0.52Z", "size": 174, "filled": true, "color": "black", "stroke": "black", "strokeWidth": 1, "opacity": 1},
   "encoding": {"x": {"field": "x", "type": "quantitative", "title": "Leading Jet ϕ"}, "y": {"field": "d", "type": "quantitative", "title": "Events"}}},
  {"data": {"values": [{"x": 0, "y": 642, "t": "DØ RunII Preliminary 913 pb-1"}, {"x": 0.41, "y": 579, "t": "KS = 0.855"}]},
   "mark": {"type": "text", "align": "left", "baseline": "alphabetic", "fontSize": 16, "fontWeight": "bold", "color": "black"},
   "encoding": {"x": {"field": "x", "type": "quantitative", "title": "Leading Jet ϕ"}, "y": {"field": "y", "type": "quantitative", "title": "Events"}, "text": {"field": "t"}}}
 ]},
{"width": 424, "height": 271.5, "data": {"name": "p6"},
 "layer": [
  {"mark": {"type": "bar", "width": 8.9, "orient": "vertical"},
   "encoding": {
    "x": {"field": "x", "type": "quantitative", "title": "Leading Jet pₜ [GeV]", "scale": {"domain": [0, 250], "nice": false, "zero": false},
      "axis": {"titleX": 424, "tickCount": 200, "labelOverlap": {"expr": "false"}, "values": [0,10,20,30,40,50,60,70,80,90,100,110,120,130,140,150,160,170,180,190,200,210,220,230,240,250],
        "labelExpr": "datum.value % 50 === 0 ? format(datum.value, '') : ''",
        "labelFontSize": {"condition": {"test": "datum.value % 50 === 0", "value": 13.5}, "value": 0},
        "labelPadding": {"condition": {"test": "datum.value % 50 === 0", "value": 12}, "value": -40},
        "tickSize": {"condition": {"test": "datum.value % 50 === 0", "value": -8}, "value": -4}}},
    "y": {"field": "mc", "type": "quantitative", "title": "Events", "scale": {"domain": [0, 3700], "nice": false},
      "axis": {"tickCount": 200, "labelOverlap": {"expr": "false"}, "values": [0,100,200,300,400,500,600,700,800,900,1000,1100,1200,1300,1400,1500,1600,1700,1800,1900,2000,2100,2200,2300,2400,2500,2600,2700,2800,2900,3000,3100,3200,3300,3400,3500,3600,3700],
        "labelExpr": "datum.value % 500 === 0 ? format(datum.value, '') : ''",
        "labelFontSize": {"condition": {"test": "datum.value % 500 === 0", "value": 13.5}, "value": 0},
        "labelPadding": {"condition": {"test": "datum.value % 500 === 0", "value": 15}, "value": -60},
        "tickSize": {"condition": {"test": "datum.value % 500 === 0", "value": -12}, "value": -6}}},
    "color": {"datum": "W+jj 13108",
      "scale": {"domain": ["DATA 15863","tt\u0304 18","Single top 19","W+jj 13108","W+hf 1370","Z+jj 286","Z+hf 32","Diboson 120","Multijet 871"], "range": ["#000000","#ff0000","#0000ff","#00ff00","#87c4a4","#66849c","#6a7680","#cc5a5a","#b8a29a"]},
      "legend": {"legendX": 283, "legendY": -23.5, "padding": 10, "symbolType": "M-2,-0.9H2V0.9H-2Z",
        "encode": {"symbols": {"update": {"shape": {"signal": "datum.value === 'DATA 15863' ? 'M-2,0H2M-0.45,-0.45H0.45V0.45H-0.45Z' : 'M-2,-0.9H2V0.9H-2Z'"}, "stroke": {"value": "black"}, "strokeWidth": {"signal": "datum.value === 'DATA 15863' ? 1 : 1.5"}}}}}}
   }},
  {"transform": [{"fold": ["whf","zjj","db","mj"], "as": ["key","v"]}, {"lookup": "key", "from": {"data": {"name": "comp"}, "key": "key", "fields": ["rank","label"]}}, {"stack": "v", "groupby": ["x"], "sort": [{"field": "rank", "order": "ascending"}], "as": ["v0","v1"]}],
   "mark": {"type": "bar", "width": 8.9, "orient": "vertical"},
   "encoding": {"x": {"field": "x", "type": "quantitative", "title": "Leading Jet pₜ [GeV]"}, "y": {"field": "v1", "type": "quantitative", "title": "Events"}, "y2": {"field": "v0"}, "color": {"field": "label", "type": "nominal"}}},
  {"transform": [{"fold": ["whf","zjj","db","mj"], "as": ["key","v"]}, {"lookup": "key", "from": {"data": {"name": "comp"}, "key": "key", "fields": ["rank","label"]}}, {"stack": "v", "groupby": ["x"], "sort": [{"field": "rank", "order": "ascending"}], "as": ["v0","v1"]}],
   "mark": {"type": "line", "interpolate": "step", "color": "black", "strokeWidth": 1},
   "encoding": {"x": {"field": "x", "type": "quantitative", "title": "Leading Jet pₜ [GeV]"}, "y": {"field": "v1", "type": "quantitative", "title": "Events"}, "detail": {"field": "key"}}},
  {"mark": {"type": "line", "interpolate": "step", "color": "black", "strokeWidth": 1},
   "encoding": {"x": {"field": "x", "type": "quantitative", "title": "Leading Jet pₜ [GeV]"}, "y": {"field": "mc", "type": "quantitative", "title": "Events"}}},
  {"mark": {"type": "line", "interpolate": "step", "color": "#ff00ff", "strokeWidth": 1, "strokeDash": [2, 3], "yOffset": -2},
   "encoding": {"x": {"field": "x", "type": "quantitative", "title": "Leading Jet pₜ [GeV]"}, "y": {"field": "mc", "type": "quantitative", "title": "Events"}}},
  {"mark": {"type": "errorbar", "ticks": false, "rule": {"color": "black", "strokeWidth": 1.5}},
   "encoding": {"x": {"field": "x", "type": "quantitative", "title": "Leading Jet pₜ [GeV]"}, "y": {"field": "d", "type": "quantitative", "title": "Events"}, "yError": {"field": "e"}}},
  {"mark": {"type": "point", "shape": "M-1,0H1M-0.8,-0.8H0.8V0.8H-0.8Z", "size": 72, "filled": true, "color": "black", "stroke": "black", "strokeWidth": 1, "opacity": 1},
   "encoding": {"x": {"field": "x", "type": "quantitative", "title": "Leading Jet pₜ [GeV]"}, "y": {"field": "d", "type": "quantitative", "title": "Events"}}},
  {"data": {"values": [{"x": 0, "y": 3850, "t": "DØ RunII Preliminary 913 pb-1"}, {"x": 15.4, "y": 3473, "t": "KS = 0.772"}]},
   "mark": {"type": "text", "align": "left", "baseline": "alphabetic", "fontSize": 16, "fontWeight": "bold", "color": "black"},
   "encoding": {"x": {"field": "x", "type": "quantitative", "title": "Leading Jet pₜ [GeV]"}, "y": {"field": "y", "type": "quantitative", "title": "Events"}, "text": {"field": "t"}}}
 ]}
],
"columns": 2,
"spacing": {"row": 71, "column": 114},
"bounds": "flush",
"resolve": {"scale": {"color": "independent"}, "legend": {"color": "independent"}}
}
